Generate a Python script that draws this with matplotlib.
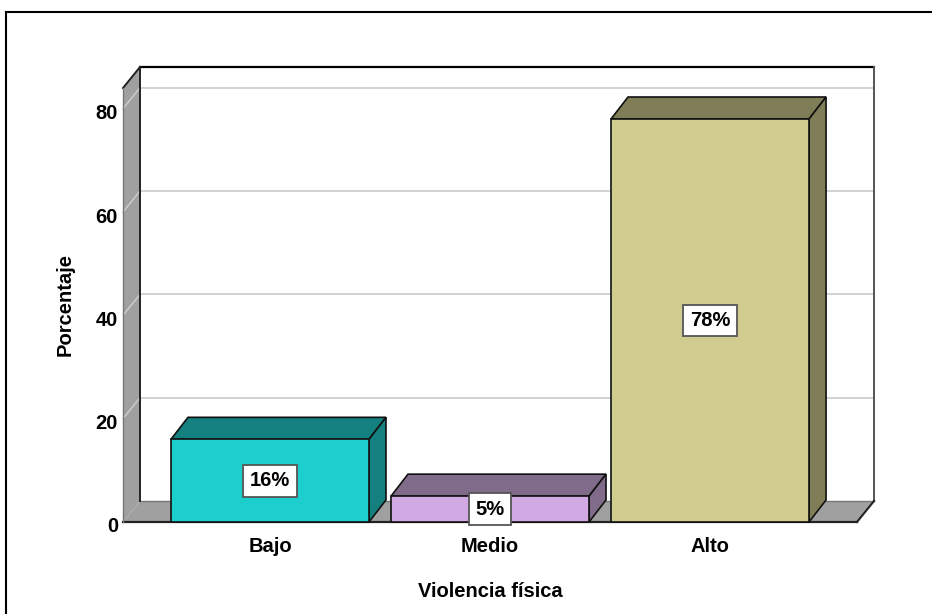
import matplotlib
matplotlib.use('Agg')
import matplotlib.pyplot as plt
from matplotlib.patches import Polygon, Rectangle
from matplotlib.lines import Line2D
from matplotlib.transforms import IdentityTransform, ScaledTranslation
import numpy as np

# ---- data ----
categories = ['Bajo', 'Medio', 'Alto']
percentages = [16, 5, 78]
value_labels = ['16%', '5%', '78%']
y_ticks = [0, 20, 40, 60, 80]
x_title = 'Violencia física'
y_title = 'Porcentaje'

front_colors = ['#1ccece', '#d2aae3', '#d0cb8f']
side_colors = ['#148080', '#806b8a', '#807e57']

plt.rcParams['font.family'] = ['Liberation Sans', 'DejaVu Sans']

W, H = 932, 614
DPI = 100
fig = plt.figure(figsize=(W / DPI, H / DPI), dpi=DPI)
fig.patch.set_facecolor('white')

# front plane of the 3D box, in pixels
L, R, B, T = 123, 857, 522, 88
ax = fig.add_axes([L / W, 1 - B / H, (R - L) / W, (B - T) / H])
ymax = 84.0
x0, x1 = -0.668, 2.668
ax.set_xlim(x0, x1)
ax.set_ylim(0, ymax)
ax.axis('off')

DX, DY = 17, 21      # depth of walls
BDY = 22             # depth of bars
FS = 14.5
ID = IdentityTransform()


def disp(x, y, back=False, dy=DY):
    p = ax.transData.transform((x, y))
    if back:
        p = p + np.array([DX, dy])
    return p


def poly(pts, **kw):
    p = Polygon(np.array(pts), closed=True, transform=ID, clip_on=False, **kw)
    ax.add_patch(p)
    return p


def line(p, q, **kw):
    l = Line2D([p[0], q[0]], [p[1], q[1]], transform=ID, clip_on=False, **kw)
    ax.add_line(l)
    return l


# back wall
poly([disp(x0, 0, True), disp(x1, 0, True), disp(x1, ymax, True), disp(x0, ymax, True)],
     facecolor='white', edgecolor='none', zorder=0)
for t in y_ticks[1:]:
    line(disp(x0, t, True), disp(x1, t, True), color='#d2d2d2', lw=1.4, zorder=1)
line(disp(x0, ymax, True), disp(x1, ymax, True), color='black', lw=1.6, zorder=2)
line(disp(x1, 0, True), disp(x1, ymax, True), color='#555555', lw=1.4, zorder=2)

# left wall
poly([disp(x0, 0), disp(x0, 0, True), disp(x0, ymax, True), disp(x0, ymax)],
     facecolor='#a0a0a0', edgecolor='none', zorder=2)
for t in y_ticks[1:]:
    line(disp(x0, t, True), disp(x0, t), color='#cfcfcf', lw=1.0, zorder=2.5)
line(disp(x0, 0, True), disp(x0, ymax, True), color='#222222', lw=1.4, zorder=3)
line(disp(x0, ymax, True), disp(x0, ymax), color='#222222', lw=1.4, zorder=3)
line(disp(x0, 0), disp(x0, ymax), color='#777777', lw=1.0, zorder=3)

# floor
poly([disp(x0, 0), disp(x1, 0), disp(x1, 0, True), disp(x0, 0, True)],
     facecolor='#a0a0a0', edgecolor='none', zorder=2.6)
line(disp(x0, 0, True), disp(x1, 0, True), color='#777777', lw=1.0, zorder=2.7)
line(disp(x1, 0), disp(x1, 0, True), color='#222222', lw=1.5, zorder=2.7)
line(disp(x0, 0), disp(x1, 0), color='#222222', lw=1.6, zorder=2.7)

# bars
xs = np.arange(len(categories))
bw = 0.9
for i, (x, h) in enumerate(zip(xs, percentages)):
    xl, xr = x - bw / 2, x + bw / 2
    poly([disp(xl, h), disp(xr, h), disp(xr, h, True, BDY), disp(xl, h, True, BDY)],
         facecolor=side_colors[i], edgecolor='#111111', lw=1.2, joinstyle='miter', zorder=4)
    poly([disp(xr, 0), disp(xr, h), disp(xr, h, True, BDY), disp(xr, 0, True, BDY)],
         facecolor=side_colors[i], edgecolor='#111111', lw=1.2, joinstyle='miter', zorder=4)
ax.bar(xs, percentages, width=bw, color=front_colors, edgecolor='#111111',
       linewidth=1.2, zorder=5, clip_on=False)

# value labels
for x, h, s in zip(xs, percentages, value_labels):
    ax.text(x, h / 2, s, ha='center', va='center', fontsize=FS, fontweight='bold',
            zorder=10,
            bbox=dict(boxstyle='square,pad=0.32', facecolor='white',
                      edgecolor='#555555', linewidth=1.3))

# y tick labels
off = ScaledTranslation(-5 / DPI, -5 / DPI, fig.dpi_scale_trans)
for t in y_ticks:
    ax.text(x0, t, f'{t}', ha='right', va='center', fontsize=FS, fontweight='bold',
            transform=ax.transData + off, clip_on=False)

# x tick labels
for x, c in zip(xs, categories):
    ax.text(x, 0, c, ha='center', va='top', fontsize=FS, fontweight='bold',
            transform=ax.transData + ScaledTranslation(0, -15 / DPI, fig.dpi_scale_trans),
            clip_on=False)

# axis titles
ax.text(0.5, -0.161, x_title, ha='center', va='center', fontsize=FS, fontweight='bold',
        transform=ax.transAxes)
ax.text(-0.079, 0.5, y_title, ha='center', va='center', rotation=90, fontsize=FS,
        fontweight='bold', transform=ax.transAxes)

# outer frame (extends beyond image)
fig.add_artist(Line2D([5.5 / W, 1.01], [1 - 11.5 / H, 1 - 11.5 / H], color='black',
                      lw=1.5, transform=fig.transFigure))
fig.add_artist(Line2D([5.5 / W, 5.5 / W], [1 - 11.5 / H, -0.01], color='black',
                      lw=1.5, transform=fig.transFigure))

fig.savefig('out.png', dpi=DPI)
